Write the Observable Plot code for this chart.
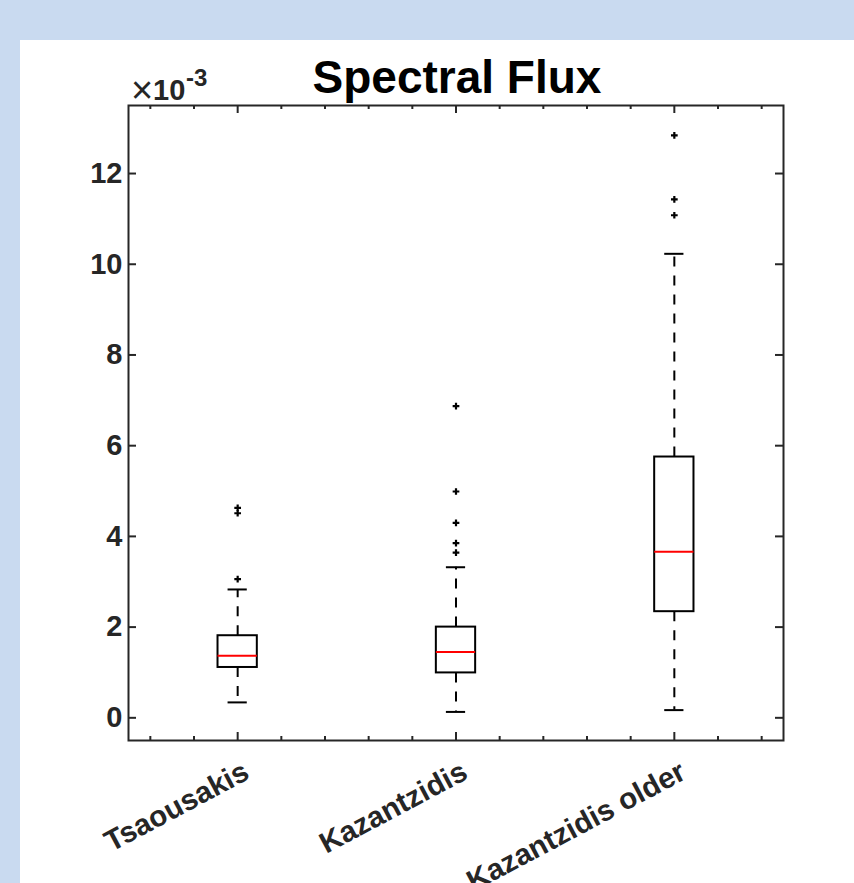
<!DOCTYPE html>
<html>
<head>
<meta charset="utf-8">
<script src="https://cdn.jsdelivr.net/npm/d3@7"></script>
<script src="https://cdn.jsdelivr.net/npm/@observablehq/plot@0.6"></script>
<style>
  html, body { margin: 0; padding: 0; }
  body { width: 854px; height: 883px; background: #c9daf0; position: relative; overflow: hidden;
         font-family: "Liberation Sans", Arial, Helvetica, sans-serif; }
  #panel { position: absolute; left: 20px; top: 40px; right: 0; bottom: 0; background: #ffffff; }
  #chart { position: absolute; left: 0; top: 0; }
  #title { position: absolute; left: 0; width: 914px; top: 54px; text-align: center; font-size: 46px;
           font-weight: bold; line-height: 1; color: #000; white-space: nowrap; }
  .exp { position: absolute; line-height: 1; color: #262626; white-space: nowrap; }
</style>
</head>
<body>
<div id="panel"></div>
<div id="chart"></div>
<div id="title">Spectral Flux</div>
<span class="exp" id="times" style="left:131px; top:71px; font-size:38px;">×</span>
<span class="exp" id="ten" style="left:153px; top:75.5px; font-size:29px; font-weight:bold;">10</span>
<span class="exp" id="pow" style="left:186px; top:66.4px; font-size:24px; font-weight:bold;"></span>
<script>
// ---- data (values in units of 1e-3) ----
const categories = ["Tsaousakis", "Kazantzidis", "Kazantzidis older"];
const lowerWhisker = [0.34, 0.13, 0.17];
const q1 = [1.11, 0.99, 2.34];
const median = [1.37, 1.45, 3.66];
const q3 = [1.81, 2.00, 5.75];
const upperWhisker = [2.83, 3.32, 10.23];
const outliersTsaousakis = [3.06, 4.51, 4.63];
const outliersKazantzidis = [3.64, 3.85, 4.30, 4.99, 6.87];
const outliersKazantzidisOlder = [11.08, 11.43, 12.84];
const yTicks = [0, 2, 4, 6, 8, 10, 12];
const yExponent = "-3";
const xMinorTicks = [0.6, 0.8, 1.2, 1.4, 1.6, 1.8, 2.2, 2.4, 2.6, 2.8, 3.2, 3.4];

document.getElementById("pow").textContent = yExponent;

const boxes = categories.map((name, i) => ({
  name, pos: i + 1,
  lo: lowerWhisker[i], q1: q1[i], med: median[i], q3: q3[i], hi: upperWhisker[i]
}));
const outlierLists = [outliersTsaousakis, outliersKazantzidis, outliersKazantzidisOlder];
const outliers = outlierLists.flatMap((list, i) => list.map(v => ({pos: i + 1, value: v})));
const xMajorTicks = boxes.map(d => d.pos);

const xDomain = [0.5, 3.5];
const yDomain = [-0.5, 13.5];
const axisColor = "#262626";
const boxHalf = 0.09, capHalf = 0.044;
const dash = "10,9";

const chart = Plot.plot({
  width: 854,
  height: 883,
  marginLeft: 128,
  marginRight: 71,
  marginTop: 105,
  marginBottom: 143,
  style: "background:transparent;overflow:visible;font-family:'Liberation Sans',Arial,sans-serif;",
  x: {domain: xDomain, axis: null},
  y: {domain: yDomain, axis: null},
  marks: [
    // whiskers
    Plot.ruleX(boxes, {x: "pos", y1: "q3", y2: "hi", stroke: "#000", strokeWidth: 2, strokeDasharray: dash}),
    Plot.ruleX(boxes, {x: "pos", y1: "q1", y2: "lo", stroke: "#000", strokeWidth: 2, strokeDasharray: dash}),
    // caps
    Plot.ruleY(boxes, {y: "hi", x1: d => d.pos - capHalf, x2: d => d.pos + capHalf, stroke: "#000", strokeWidth: 2}),
    Plot.ruleY(boxes, {y: "lo", x1: d => d.pos - capHalf, x2: d => d.pos + capHalf, stroke: "#000", strokeWidth: 2}),
    // boxes
    Plot.rect(boxes, {x1: d => d.pos - boxHalf, x2: d => d.pos + boxHalf, y1: "q1", y2: "q3",
                      fill: "none", stroke: "#000", strokeWidth: 2}),
    // medians
    Plot.ruleY(boxes, {y: "med", x1: d => d.pos - boxHalf, x2: d => d.pos + boxHalf, stroke: "#ff0000", strokeWidth: 2}),
    // outliers
    Plot.dot(outliers, {x: "pos", y: "value", symbol: "plus", r: 2.3, stroke: "#000", strokeWidth: 2.2}),
    // frame
    Plot.frame({stroke: axisColor, strokeWidth: 2}),
    // y ticks (inward, left & right)
    Plot.ruleY(yTicks, {y: d => d, x1: () => xDomain[0], x2: () => xDomain[0], insetRight: -8, stroke: axisColor, strokeWidth: 2}),
    Plot.ruleY(yTicks, {y: d => d, x1: () => xDomain[1], x2: () => xDomain[1], insetLeft: -8, stroke: axisColor, strokeWidth: 2}),
    // x ticks (inward, bottom & top)
    Plot.ruleX(xMajorTicks, {x: d => d, y1: () => yDomain[0], y2: () => yDomain[0], insetTop: -8, stroke: axisColor, strokeWidth: 2}),
    Plot.ruleX(xMajorTicks, {x: d => d, y1: () => yDomain[1], y2: () => yDomain[1], insetBottom: -8, stroke: axisColor, strokeWidth: 2}),
    Plot.ruleX(xMinorTicks, {x: d => d, y1: () => yDomain[0], y2: () => yDomain[0], insetTop: -4, stroke: axisColor, strokeWidth: 2}),
    Plot.ruleX(xMinorTicks, {x: d => d, y1: () => yDomain[1], y2: () => yDomain[1], insetBottom: -4, stroke: axisColor, strokeWidth: 2}),
    // y tick labels
    Plot.text(yTicks, {y: d => d, frameAnchor: "left", text: d => String(d), textAnchor: "end", dx: -6,
                       fontSize: 29, fontWeight: "bold", fill: axisColor}),
    // x tick labels (rotated)
    Plot.text(boxes, {x: "pos", frameAnchor: "bottom", text: "name", rotate: -28, textAnchor: "end",
                      lineAnchor: "middle", dx: 9, dy: 29, fontSize: 29.5, fontWeight: "bold", fill: axisColor})
  ]
});
document.getElementById("chart").appendChild(chart);
</script>
</body>
</html>
